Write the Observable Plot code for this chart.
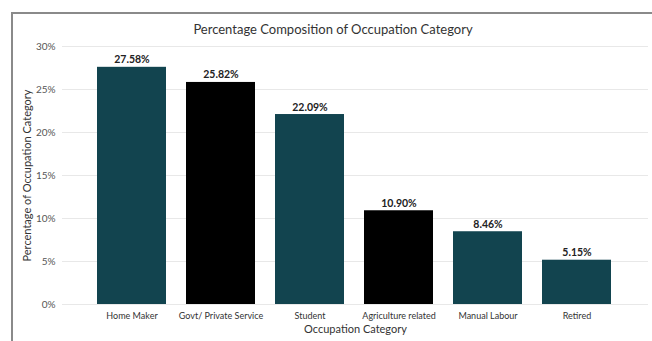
<!DOCTYPE html>
<html>
<head>
<meta charset="utf-8">
<script src="https://cdn.jsdelivr.net/npm/d3@7"></script>
<script src="https://cdn.jsdelivr.net/npm/@observablehq/plot@0.6"></script>
<style>
  html, body { margin: 0; padding: 0; background: #fff; }
  #wrap { position: relative; width: 652px; height: 341px; overflow: hidden; background: #fff; font-family: Lato, "Open Sans", sans-serif; }
  #frame { position: absolute; left: 11px; top: 12px; width: 700px; height: 400px; border-left: 2px solid #8a8a8a; border-top: 2px solid #8a8a8a; }
  #title { position: absolute; left: 0; width: 666px; top: 21px; text-align: center; font-size: 13px; color: #333; }
  #chart { position: absolute; left: 0; top: 0; }
</style>
</head>
<body>
<div id="wrap">
  <div id="frame"></div>
  <div id="chart"></div>
  <div id="title">Percentage Composition of Occupation Category</div>
</div>
<script>
const categories = ["Home Maker", "Govt/ Private Service", "Student", "Agriculture related", "Manual Labour", "Retired"];
const values = [27.58, 25.82, 22.09, 10.90, 8.46, 5.15];
const yTicks = [0, 5, 10, 15, 20, 25, 30];

const barColors = ["#12444f", "#000000", "#12444f", "#000000", "#12444f", "#12444f"];
const data = categories.map((c, i) => ({category: c, value: values[i], color: barColors[i]}));

const chart = Plot.plot({
  width: 652,
  height: 341,
  marginTop: 46,
  marginBottom: 37,
  marginLeft: 62,
  marginRight: 4,
  style: {fontFamily: "Lato, 'Open Sans', sans-serif", background: "transparent"},
  x: {domain: categories, range: [96, 612], paddingInner: 0.225, paddingOuter: 0, label: null},
  y: {domain: [0, 30], label: null},
  marks: [
    Plot.gridY(yTicks, {stroke: "#e8e8e8", strokeOpacity: 1}),
    Plot.axisY(yTicks, {tickSize: 0, tickPadding: 7, tickFormat: d => d + "%", fontSize: 10, color: "#555", label: null}),
    Plot.axisX({tickSize: 0, tickPadding: 8, fontSize: 9, color: "#333", label: null}),
    Plot.barY(data, {x: "category", y: "value", fill: "color"}),
    Plot.text(data, {x: "category", y: "value", text: d => d.value.toFixed(2) + "%", lineAnchor: "bottom", dy: -4, fontSize: 10.5, fontWeight: 700, fill: "#222"}),
    Plot.text(["Percentage of Occupation Category"], {frameAnchor: "left", textAnchor: "middle", dx: -35, rotate: -90, fontSize: 11, fill: "#333"}),
    Plot.text(["Occupation Category"], {frameAnchor: "bottom", dy: 28, fontSize: 11, fill: "#333"})
  ]
});
document.getElementById("chart").appendChild(chart);
</script>
</body>
</html>
